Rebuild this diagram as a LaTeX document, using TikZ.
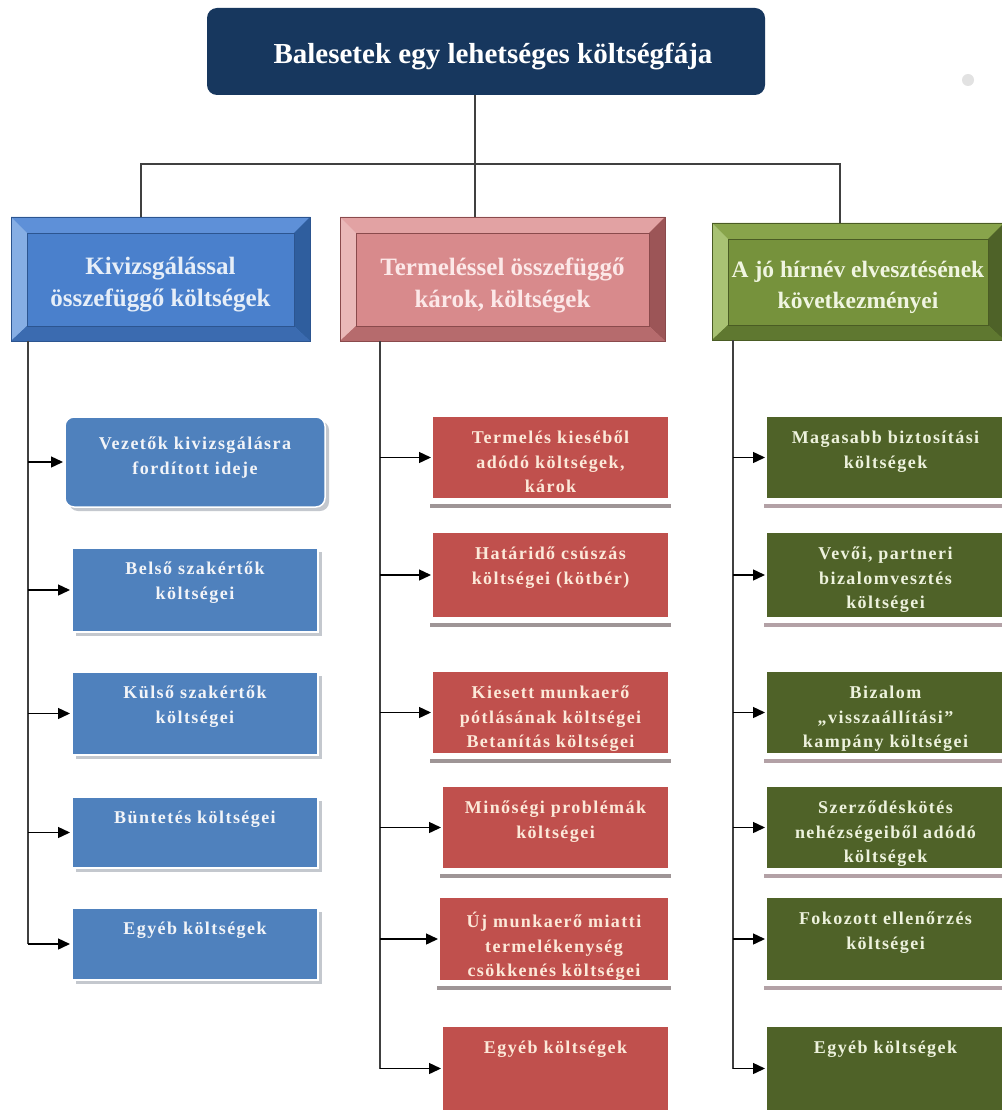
\documentclass[tikz,border=0pt]{standalone}
\usepackage{fontspec}
\setmainfont{Liberation Serif}
\newfontfamily\leaffont[LetterSpace=8]{Liberation Serif}
\usetikzlibrary{calc,arrows.meta}

% palette
\definecolor{navy}{HTML}{17375E}
\definecolor{bluface}{HTML}{4A80CC}
\definecolor{blutop}{HTML}{5E90D8}
\definecolor{bluleft}{HTML}{86AEE4}
\definecolor{bluright}{HTML}{2F5E9E}
\definecolor{blubottom}{HTML}{3B6BB0}
\definecolor{bluedge}{HTML}{2C5590}
\definecolor{bluink}{HTML}{E6EEF8}
\definecolor{pnkface}{HTML}{D88A8C}
\definecolor{pnktop}{HTML}{E2A2A3}
\definecolor{pnkleft}{HTML}{EAB8B8}
\definecolor{pnkright}{HTML}{9C5557}
\definecolor{pnkbottom}{HTML}{B66B6D}
\definecolor{pnkedge}{HTML}{8A4A4C}
\definecolor{pnkink}{HTML}{FCE8E8}
\definecolor{grnface}{HTML}{76923C}
\definecolor{grntop}{HTML}{88A44B}
\definecolor{grnleft}{HTML}{A8C273}
\definecolor{grnright}{HTML}{4E6228}
\definecolor{grnbottom}{HTML}{5F7830}
\definecolor{grnedge}{HTML}{4A5C24}
\definecolor{grnink}{HTML}{F0F5E1}
\definecolor{lblue}{HTML}{4F81BD}
\definecolor{lblueink}{HTML}{F2F4F8}
\definecolor{lred}{HTML}{C0504D}
\definecolor{lredink}{HTML}{FCE9D9}
\definecolor{lredbar}{HTML}{9E9596}
\definecolor{lgreen}{HTML}{4F6228}
\definecolor{lgreenink}{HTML}{EDF2DD}
\definecolor{lgreenbar}{HTML}{B3A1A6}
\definecolor{leafshadow}{HTML}{C4C8CE}
\definecolor{wire}{HTML}{404040}
\definecolor{dotgrey}{HTML}{E2E2E2}

\tikzset{
  x=1pt, y=-1pt,
  titlebox/.style={rectangle, rounded corners=10pt, fill=navy,
    minimum width=558pt, minimum height=87pt, inner sep=0pt, outer sep=0pt},
  titletext/.style={inner sep=0pt, text=white, font=\bfseries\fontsize{29}{34}\selectfont},
  catnode/.style={rectangle, inner sep=0pt, outer sep=0pt, line width=0.8pt},
  cattext/.style={inner sep=0pt, align=center, font=\bfseries\fontsize{25}{32}\selectfont},
  leaf/.style={rectangle, inner sep=0pt, outer sep=0pt},
  leaftext/.style={anchor=north, inner sep=0pt, align=center,
    font=\leaffont\bfseries\fontsize{18}{24.5}\selectfont},
  conn/.style={draw=wire, line width=1.6pt},
  spine/.style={draw=wire, line width=1.6pt},
  arr/.style={draw=black, line width=1.4pt, shorten >=2pt,
    -{Triangle[length=12pt,width=11pt]}},
}

% bevelled category box: [text opts] name, centre, width, height, palette, text
\newcommand{\catbox}[7][]{%
  \node[catnode, minimum width=#4, minimum height=#5, fill=#6face, draw=#6edge] (#2) at (#3) {};
  \fill[#6top] (#2.north west) -- (#2.north east) -- ($(#2.north east)+(-16,16)$) -- ($(#2.north west)+(16,16)$) -- cycle;
  \fill[#6left] (#2.north west) -- ($(#2.north west)+(16,16)$) -- ($(#2.south west)+(16,-15)$) -- (#2.south west) -- cycle;
  \fill[#6right] (#2.north east) -- ($(#2.north east)+(-16,16)$) -- ($(#2.south east)+(-16,-15)$) -- (#2.south east) -- cycle;
  \fill[#6bottom] (#2.south west) -- ($(#2.south west)+(16,-15)$) -- ($(#2.south east)+(-16,-15)$) -- (#2.south east) -- cycle;
  \draw[#6edge, line width=0.8pt] (#2.north west) rectangle (#2.south east)
    ($(#2.north west)+(16,16)$) rectangle ($(#2.south east)+(-16,-15)$);
  \node[cattext, text=#6ink, #1] (#2t) at ($(#2.center)+(0,6)$) {#7};
}

% distance from a leaf's top edge to the top of its text
\def\leafdrop{14}

% blue leaf with soft offset shadow: [opts] name x1 y1 x2 y2 text
\newcommand{\softleaf}[7][]{%
  \fill[leafshadow, #1] ({#3+4},{#4+4}) rectangle ({#5+4},{#6+4});
  \node[leaf, fill=lblue, draw=white, line width=1.5pt,
    minimum width={(#5-#3)*1pt}, minimum height={(#6-#4)*1pt}, #1]
    (#2) at ({(#3+#5)/2},{(#4+#6)/2}) {};
  \node[leaftext, text=lblueink] (#2t) at ($(#2.north)+(0,\leafdrop)$) {#7};
}

% red / green leaf with a reflection bar beneath: name palette x1 y1 x2 y2 text
\newcommand{\barleaf}[7]{%
  \fill[#2bar] ({#3-3},{#6+6}) rectangle ({#5+3},{#6+10});
  \node[leaf, fill=#2, minimum width={(#5-#3)*1pt}, minimum height={(#6-#4)*1pt}]
    (#1) at ({(#3+#5)/2},{(#4+#6)/2}) {};
  \node[leaftext, text=#2ink] (#1t) at ($(#1.north)+(0,\leafdrop)$) {#7};
}

\begin{document}
\begin{tikzpicture}
\useasboundingbox[fill=white] (0,0) rectangle (1001,1115);

% root
\node[titlebox] (title) at (486,51.5) {};
\node[titletext] (titlet) at (493,56) {Balesetek egy lehetséges költségfája};
\fill[dotgrey] (968,80) circle (6);

% categories
\catbox{cat1}{160.5,279}{299pt}{124pt}{blu}{Kivizsgálással\\összefüggő költségek}
\catbox{cat2}{502.5,279}{325pt}{124pt}{pnk}{Termeléssel összefüggő\\károk, költségek}
\catbox[font=\bfseries\fontsize{23.5}{31}\selectfont]{cat3}{858,281.5}{292pt}{117pt}{grn}{A jó hírnév elvesztésének\\következményei}

% tree connectors
\coordinate (bus) at (475,164);
\coordinate (busL) at (141,164);
\coordinate (busR) at (840,164);
\draw[conn] (title.south -| bus) -- (cat2.north -| bus);
\draw[conn] (cat1.north -| busL) -- (busL) -- (busR) -- (cat3.north -| busR);

% investigation costs
{\def\leafdrop{20}%
\softleaf[rounded corners=9pt]{b1}{65}{417}{325}{507}{Vezetők kivizsgálásra\\fordított ideje}}
\softleaf{b2}{72}{548}{318}{632}{Belső szakértők\\költségei}
\softleaf{b3}{72}{672}{318}{755}{Külső szakértők\\költségei}
\softleaf{b4}{72}{797}{318}{868}{Büntetés költségei}
\softleaf{b5}{72}{908}{318}{980}{Egyéb költségek}

% production losses
\barleaf{r1}{lred}{433}{417}{668}{498}{Termelés kieséből\\adódó költségek,\\károk}
\barleaf{r2}{lred}{433}{533}{668}{617}{Határidő csúszás\\költségei (kötbér)}
\barleaf{r3}{lred}{433}{672}{668}{753}{Kiesett munkaerő\\pótlásának költségei\\Betanítás költségei}
\barleaf{r4}{lred}{443}{787}{668}{868}{Minőségi problémák\\költségei}
\barleaf{r5}{lred}{440}{898}{668}{980}{Új munkaerő miatti\\termelékenység\\csökkenés költségei}
\barleaf{r6}{lred}{443}{1027}{668}{1110}{Egyéb költségek}

% reputation consequences
\barleaf{g1}{lgreen}{767}{417}{1004}{498}{Magasabb biztosítási\\költségek}
\barleaf{g2}{lgreen}{767}{533}{1004}{617}{Vevői, partneri\\bizalomvesztés\\költségei}
\barleaf{g3}{lgreen}{767}{672}{1004}{753}{Bizalom\\„visszaállítási”\\kampány költségei}
\barleaf{g4}{lgreen}{767}{787}{1004}{868}{Szerződéskötés\\nehézségeiből adódó\\költségek}
\barleaf{g5}{lgreen}{767}{898}{1004}{980}{Fokozott ellenőrzés\\költségei}
\barleaf{g6}{lgreen}{767}{1027}{1004}{1110}{Egyéb költségek}

% spines and arrows
\coordinate (bsp) at (28,0);
\coordinate (rsp) at (380,0);
\coordinate (gsp) at (733,0);
\draw[spine] (cat1.south -| bsp) -- (bsp |- b5.west);
\draw[spine] (cat2.south -| rsp) -- (rsp |- r6.west);
\draw[spine] (cat3.south -| gsp) -- (gsp |- g6.west);
\foreach \n in {b1,b2,b3,b4,b5} \draw[arr] (bsp |- \n.west) -- (\n.west);
\foreach \n in {r1,r2,r3,r4,r5,r6} \draw[arr] (rsp |- \n.west) -- (\n.west);
\foreach \n in {g1,g2,g3,g4,g5,g6} \draw[arr] (gsp |- \n.west) -- (\n.west);
\end{tikzpicture}
\end{document}
